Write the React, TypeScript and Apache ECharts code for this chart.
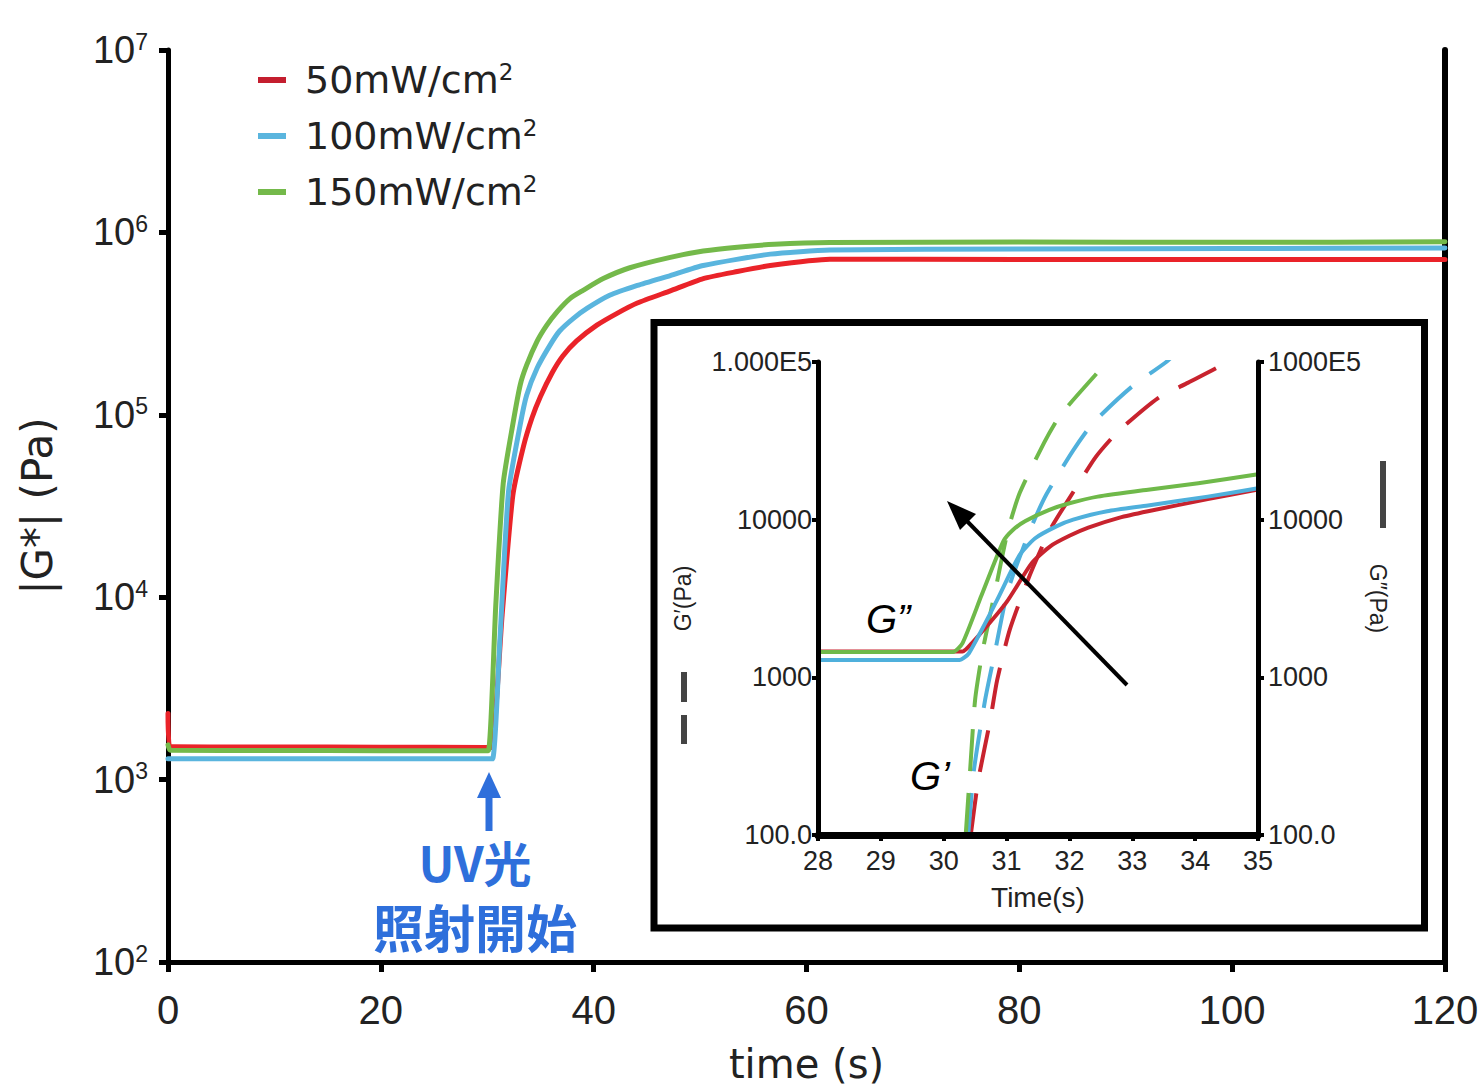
import React, { useEffect, useRef } from 'react';
import * as echarts from 'echarts';

// ---------- data ----------
const seriesNames = ['50mW/cm²', '100mW/cm²', '150mW/cm²'];
const mainColors = ['#ea2329', '#5ab5de', '#74b94a'];
const insetColors = ['#c8232e', '#4fb0dc', '#6fb94a'];
const legendColors = ['#c41e2f', '#5ab5de', '#74b94a'];

// main chart |G*| (time s, Pa)
const gStar50: [number, number][] = [
  [0, 2300], [0.15, 1520], [10, 1510], [20, 1505], [29.9, 1500], [30.4, 1500], [31.4, 8000], [32.4, 36000],
  [33.4, 67000], [34.2, 96000], [35.0, 126000], [36.1, 170000], [37.1, 210000], [38.4, 254000],
  [40.3, 310000], [42.2, 360000], [44.1, 410000], [47.2, 478000], [50.3, 558000], [53.5, 610000],
  [56.6, 658000], [62.2, 712000], [70, 712000], [90, 710000], [120, 710000],
];
const gStar100: [number, number][] = [
  [0, 1300], [10, 1300], [20, 1300], [30.0, 1300], [30.5, 1300], [31.2, 6000], [32.0, 38000], [33.1, 88500],
  [33.7, 128000], [34.7, 181000], [35.9, 241000], [36.8, 288000], [38.1, 338000], [39.4, 384000],
  [41.5, 452000], [44.1, 512000], [47.2, 580000], [50.3, 658000], [56.6, 760000],
  [62.2, 800000], [80, 810000], [100, 815000], [120, 822000],
];
const gStar150: [number, number][] = [
  [0, 1550], [0.2, 1450], [10, 1445], [20, 1440], [29.6, 1440], [30.1, 1440], [30.8, 9000], [31.5, 42000],
  [32.4, 88500], [33.1, 146000], [33.7, 187000], [34.7, 254000], [35.6, 310000], [36.6, 369000],
  [37.8, 435000], [39.0, 481000], [40.9, 558000], [43.4, 640000], [47.2, 730000], [50.3, 790000],
  [53.5, 830000], [57.0, 860000], [62.2, 880000], [80, 885000], [100, 882000], [120, 888000],
];

// inset G' (dashed)
const gp50: [number, number][] = [
  [30.43, 100], [30.55, 223], [30.74, 535], [30.85, 960], [31.05, 2000], [31.37, 4450], [31.69, 8600],
  [31.98, 13300], [32.42, 25000], [32.77, 36100], [33.41, 59000], [33.89, 74000], [34.47, 98000], [34.6, 110000],
];
const gp100: [number, number][] = [
  [30.39, 100], [30.48, 257], [30.66, 724], [30.82, 1480], [31.02, 3550], [31.39, 8900], [31.63, 14400],
  [32.06, 27500], [32.37, 40800], [32.98, 69000], [33.54, 100000], [33.7, 115000],
];
const gp150: [number, number][] = [
  [30.35, 100], [30.42, 257], [30.5, 724], [30.62, 1480], [30.82, 3550], [31.02, 8500], [31.21, 14800],
  [31.6, 30900], [31.85, 45700], [32.44, 85100], [32.7, 110000],
];

// inset G'' (solid)
const gpp50: [number, number][] = [
  [28, 1460], [30.0, 1460], [30.3, 1460], [30.45, 1650], [31.0, 3000], [31.4, 5300], [31.7, 6800], [32.0, 7900],
  [32.3, 8900], [32.8, 10300], [33.25, 11300], [34.2, 13500], [35, 15500],
];
const gpp100: [number, number][] = [
  [28, 1290], [29.95, 1290], [30.25, 1290], [30.4, 1420], [30.85, 3100], [31.2, 5900], [31.45, 7600], [31.8, 9100],
  [32.06, 10000], [32.6, 11300], [33.25, 12300], [34.2, 14000], [35, 15800],
];
const gpp150: [number, number][] = [
  [28, 1450], [29.85, 1450], [30.15, 1450], [30.3, 1650], [30.6, 3300], [30.95, 7300], [31.1, 8600], [31.3, 9800],
  [31.67, 11500], [32.0, 12700], [32.45, 14000], [33.25, 15500], [34.05, 17000], [35, 19400],
];

const mainSeriesData = [gStar50, gStar100, gStar150];
const gpData = [gp50, gp100, gp150];
const gppData = [gpp50, gpp100, gpp150];

const leftInsetLabels: Record<number, string> = { 2: '100.0', 3: '1000', 4: '10000', 5: '1.000E5' };
const rightInsetLabels: Record<number, string> = { 2: '100.0', 3: '1000', 4: '10000', 5: '1000E5' };

const ink = '#222';
const NUM_FONT = 'Liberation Sans';
const TXT_FONT = 'DejaVu Sans';

function buildOption() {
  const series: any[] = [];
  mainSeriesData.forEach((d, i) => {
    series.push({
      name: seriesNames[i], type: 'line', xAxisIndex: 0, yAxisIndex: 0, data: d,
      showSymbol: false, smooth: 0.2,
      lineStyle: { color: mainColors[i], width: 5, join: 'round', cap: 'round' },
      itemStyle: { color: mainColors[i] }, z: 3,
    });
  });
  gpData.forEach((d, i) => {
    series.push({
      name: "G' " + seriesNames[i], type: 'line', xAxisIndex: 1, yAxisIndex: 2, data: d,
      showSymbol: false, smooth: 0.2, clip: true,
      lineStyle: { color: insetColors[i], width: 4, type: [42, 22], join: 'round' }, z: 5,
    });
  });
  gppData.forEach((d, i) => {
    series.push({
      name: 'G" ' + seriesNames[i], type: 'line', xAxisIndex: 1, yAxisIndex: 3, data: d,
      showSymbol: false, smooth: 0.2, clip: true,
      lineStyle: { color: insetColors[i], width: 4, join: 'round' }, z: 5,
    });
  });

  const insetLogAxis = (pos: 'left' | 'right', labels: Record<number, string>, name: string, gap: number, rot: number) => ({
    gridIndex: 1, type: 'log', logBase: 10, min: 100, max: 100000, position: pos,
    name, nameLocation: 'middle', nameGap: gap, nameRotate: rot,
    nameTextStyle: { fontSize: 23, fontFamily: NUM_FONT, color: ink },
    axisLine: { show: true, lineStyle: { color: '#000', width: 5 } },
    axisTick: { show: true, length: 6, lineStyle: { color: '#000', width: 4 } },
    axisLabel: {
      fontSize: 27, fontFamily: NUM_FONT, color: ink, margin: pos === 'left' ? 6 : 10,
      formatter: (v: number) => labels[Math.round(Math.log10(v))] ?? '',
    },
    splitLine: { show: false }, z: 6,
  });

  return {
    animation: false,
    backgroundColor: '#ffffff',
    grid: [
      { left: 168, right: 38, top: 50, bottom: 121 },
      { left: 818, right: 225, top: 362, bottom: 254 },
    ],
    legend: {
      data: seriesNames.map((n, i) => ({ name: n, itemStyle: { color: legendColors[i] } })),
      orient: 'vertical', left: 253, top: 55, icon: 'rect', itemWidth: 28, itemHeight: 6, itemGap: 17,
      selectedMode: false,
      formatter: (n: string) => `{t|${n.replace('²', '')}}{s|2}`,
      textStyle: {
        rich: {
          t: { fontSize: 38, fontFamily: TXT_FONT, color: ink, lineHeight: 40, padding: [0, 0, 0, 14] },
          s: { fontSize: 23, fontFamily: TXT_FONT, color: ink, lineHeight: 24, verticalAlign: 'top' },
        },
      },
    },
    xAxis: [
      {
        gridIndex: 0, type: 'value', min: 0, max: 120, interval: 20,
        name: 'time (s)', nameLocation: 'middle', nameGap: 82,
        nameTextStyle: { fontSize: 40, fontFamily: TXT_FONT, color: ink },
        axisLine: { show: true, onZero: false, lineStyle: { color: '#000', width: 5 } },
        axisTick: { show: true, length: 10, lineStyle: { color: '#000', width: 5 } },
        axisLabel: { fontSize: 40, fontFamily: NUM_FONT, color: ink, margin: 28 },
        splitLine: { show: false },
      },
      {
        gridIndex: 1, type: 'value', min: 28, max: 35, interval: 1,
        name: 'Time(s)', nameLocation: 'middle', nameGap: 48,
        nameTextStyle: { fontSize: 28, fontFamily: NUM_FONT, color: ink },
        axisLine: { show: true, onZero: false, lineStyle: { color: '#000', width: 7 } },
        axisTick: { show: true, length: 6, lineStyle: { color: '#000', width: 4 } },
        axisLabel: { fontSize: 27, fontFamily: NUM_FONT, color: ink, margin: 12 },
        splitLine: { show: false }, z: 6,
      },
    ],
    yAxis: [
      {
        gridIndex: 0, type: 'log', logBase: 10, min: 100, max: 10000000,
        name: '|G*| (Pa)', nameLocation: 'middle', nameGap: 110,
        nameTextStyle: { fontSize: 42, fontFamily: TXT_FONT, color: ink },
        axisLine: { show: true, lineStyle: { color: '#000', width: 5 } },
        axisTick: { show: true, length: 9, lineStyle: { color: '#000', width: 5 } },
        axisLabel: {
          margin: 20,
          formatter: (v: number) => `{b|10}{e|${Math.round(Math.log10(v))}}`,
          rich: {
            b: { fontSize: 38, fontFamily: NUM_FONT, color: ink, lineHeight: 40 },
            e: { fontSize: 23, fontFamily: NUM_FONT, color: ink, lineHeight: 24, verticalAlign: 'top' },
          },
        },
        splitLine: { show: false },
      },
      {
        gridIndex: 0, type: 'value', min: 0, max: 1, position: 'right',
        axisLine: { show: true, lineStyle: { color: '#000', width: 6 } },
        axisTick: { show: false }, axisLabel: { show: false }, splitLine: { show: false },
      },
      insetLogAxis('left', leftInsetLabels, 'G′(Pa)', 124, 90),
      insetLogAxis('right', rightInsetLabels, 'G″(Pa)', 108, -90),
    ],
    series,
    graphic: [
      // inset frame
      { type: 'rect', shape: { x: 654, y: 322.5, width: 770.5, height: 605.5 }, style: { fill: 'none', stroke: '#000', lineWidth: 7 }, z: 4 },
      // inset axis legend symbols
      { type: 'line', shape: { x1: 684, y1: 672, x2: 684, y2: 702 }, style: { stroke: '#444', lineWidth: 6 }, z: 6 },
      { type: 'line', shape: { x1: 684, y1: 715, x2: 684, y2: 744 }, style: { stroke: '#444', lineWidth: 6 }, z: 6 },
      { type: 'line', shape: { x1: 1383, y1: 461, x2: 1383, y2: 528 }, style: { stroke: '#444', lineWidth: 6 }, z: 6 },
      // inset labels G'' and G'
      { type: 'text', x: 866, y: 619, style: { text: 'G”', fontSize: 40, fontStyle: 'italic', fontFamily: 'Liberation Sans', fill: '#000', textVerticalAlign: 'middle', verticalAlign: 'middle' }, z: 7 },
      { type: 'text', x: 910, y: 776, style: { text: 'G’', fontSize: 40, fontStyle: 'italic', fontFamily: 'Liberation Sans', fill: '#000', textVerticalAlign: 'middle', verticalAlign: 'middle' }, z: 7 },
      // inset trend arrow
      { type: 'line', shape: { x1: 1127, y1: 685, x2: 962, y2: 516 }, style: { stroke: '#000', lineWidth: 4 }, z: 7 },
      { type: 'polygon', shape: { points: [[947, 501], [976, 514], [960, 530]] }, style: { fill: '#000' }, z: 7 },
      // UV arrow
      { type: 'polygon', shape: { points: [[489, 772], [477, 798], [501, 798]] }, style: { fill: '#2e6fdb' }, z: 7 },
      { type: 'rect', shape: { x: 485.5, y: 796, width: 7, height: 35 }, style: { fill: '#2e6fdb' }, z: 7 },
      { type: 'text', x: 475, y: 861, style: { text: 'UV光', fontSize: 48, lineHeight: 52, fontWeight: 'bold', fontFamily: 'Noto Sans CJK JP', fill: '#2e6fdb', textAlign: 'center', align: 'center', textVerticalAlign: 'middle', verticalAlign: 'middle' }, z: 7 },
      { type: 'text', x: 475, y: 926, style: { text: '照射開始', fontSize: 51, lineHeight: 54, fontWeight: 'bold', fontFamily: 'Noto Sans CJK JP', fill: '#2e6fdb', textAlign: 'center', align: 'center', textVerticalAlign: 'middle', verticalAlign: 'middle' }, z: 7 },
    ],
  };
}

export default function App() {
  const ref = useRef<HTMLDivElement>(null);
  useEffect(() => {
    if (!ref.current) return;
    const chart = echarts.init(ref.current, null, { renderer: 'svg' });
    chart.setOption(buildOption() as any);
    return () => chart.dispose();
  }, []);
  return <div ref={ref} style={{ position: 'absolute', left: 0, top: 0, width: 1483, height: 1089 }} />;
}
